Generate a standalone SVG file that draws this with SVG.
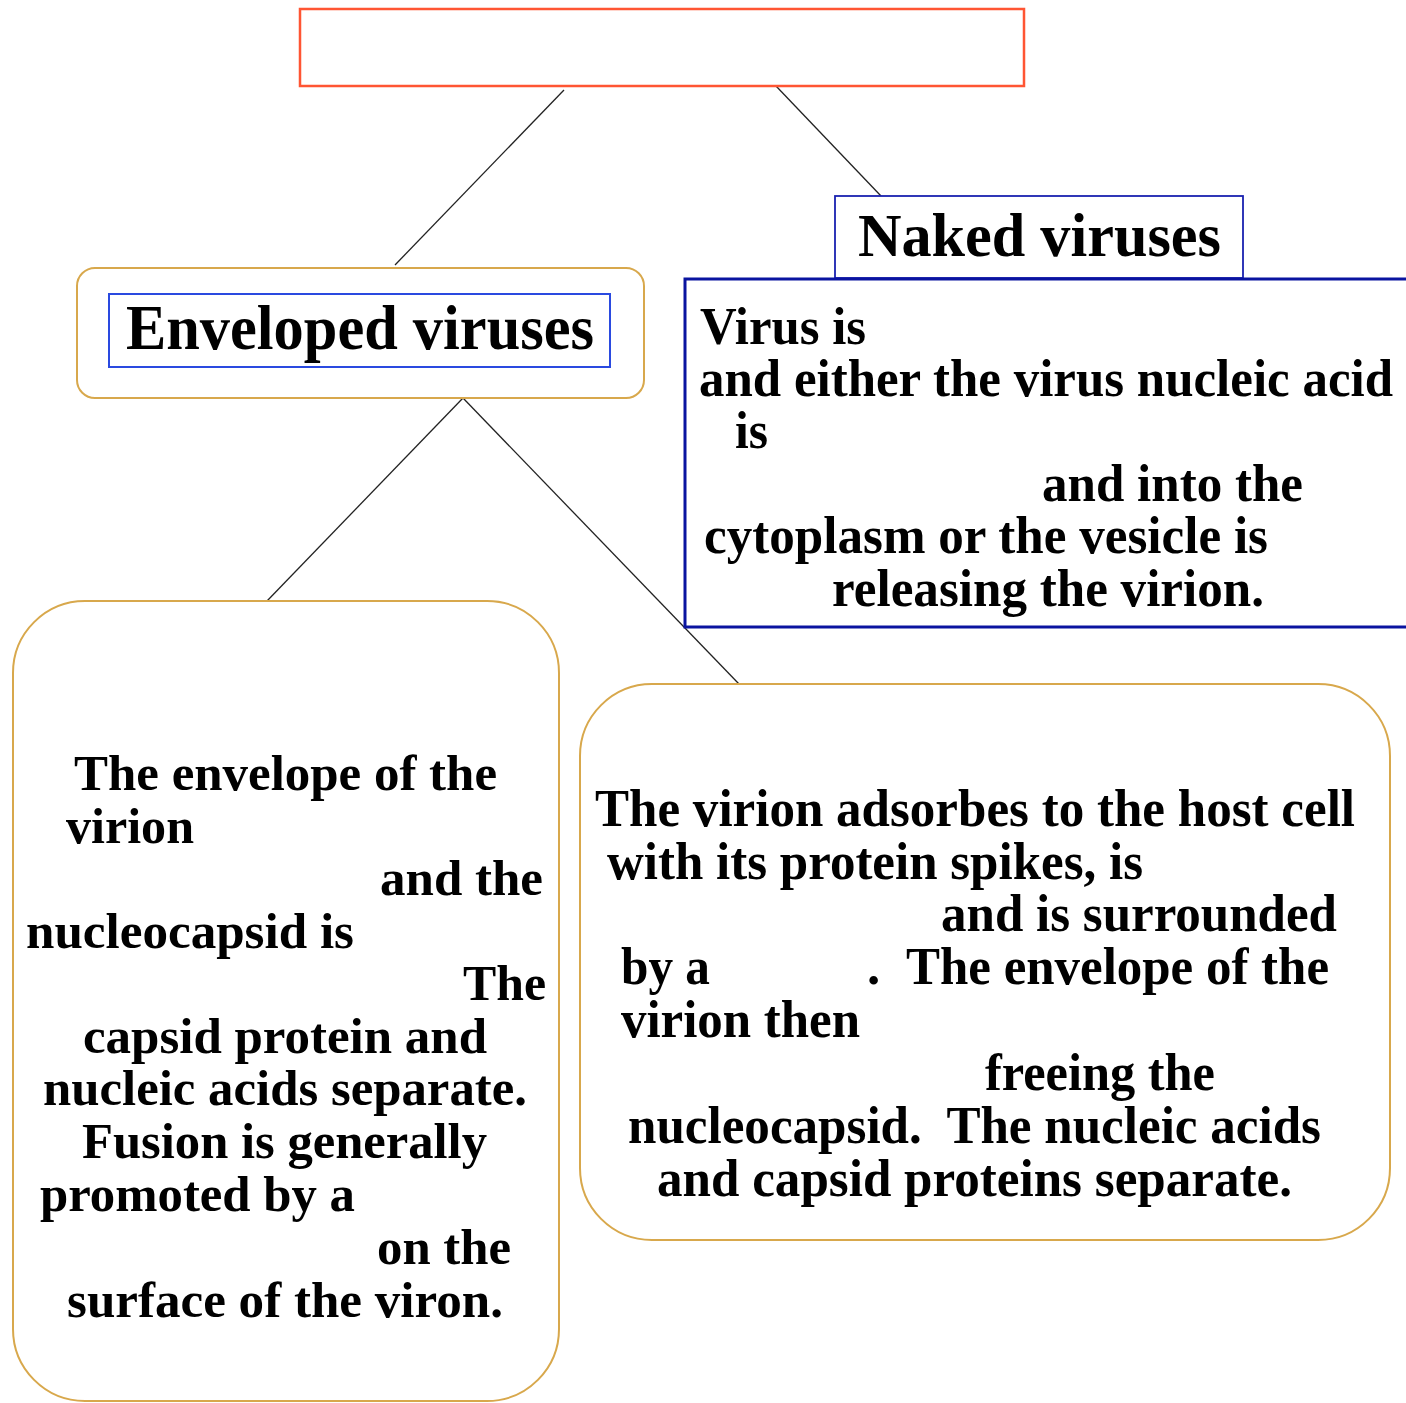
<svg xmlns="http://www.w3.org/2000/svg" width="1406" height="1403" viewBox="0 0 1406 1403">
<style>
.t{font-family:"Liberation Serif","Times New Roman",serif;font-weight:bold;fill:#000}
.n{font-size:53px}
.w{font-size:50px}
.gold{fill:#fff;stroke:#d8a84c;stroke-width:2}
.conn line{stroke:#222;stroke-width:1.3}
</style>
<rect width="1406" height="1403" fill="#fff"/>
<g class="conn">
<line x1="564" y1="90" x2="395" y2="265"/>
<line x1="776" y1="86" x2="881" y2="196"/>
<line x1="463" y1="398" x2="267" y2="601"/>
<line x1="463" y1="398" x2="739" y2="684"/>
</g>
<g id="root">
<rect x="300" y="9" width="724" height="77" fill="#fff" stroke="#ff5533" stroke-width="2.5"/>
</g>
<g id="enveloped">
<rect class="gold" x="77" y="268" width="567" height="130" rx="18"/>
<rect x="109" y="294" width="501" height="73" fill="none" stroke="#2a4ae0" stroke-width="2"/>
<text class="t" x="126" y="349" font-size="64" textLength="468" lengthAdjust="spacingAndGlyphs">Enveloped viruses</text>
</g>
<g id="naked">
<rect x="835" y="196" width="408" height="82" fill="#fff" stroke="#1a22b0" stroke-width="1.8"/>
<text class="t" x="858" y="256" font-size="62" textLength="363" lengthAdjust="spacingAndGlyphs">Naked viruses</text>
<rect x="685" y="279" width="740" height="348" fill="#fff" stroke="#0a14a0" stroke-width="3"/>
<text class="t n" x="700" y="344" textLength="166" lengthAdjust="spacingAndGlyphs">Virus is</text>
<text class="t n" x="699" y="396" textLength="694" lengthAdjust="spacingAndGlyphs">and either the virus nucleic acid</text>
<text class="t n" x="735" y="448" textLength="33" lengthAdjust="spacingAndGlyphs">is</text>
<text class="t n" x="1042" y="501" textLength="261" lengthAdjust="spacingAndGlyphs">and into the</text>
<text class="t n" x="704" y="553" textLength="564" lengthAdjust="spacingAndGlyphs">cytoplasm or the vesicle is</text>
<text class="t n" x="832" y="606" textLength="432" lengthAdjust="spacingAndGlyphs">releasing the virion.</text>
</g>
<g id="fusion">
<rect class="gold" x="13" y="601" width="546" height="800" rx="72"/>
<text class="t w" x="74" y="790" textLength="423" lengthAdjust="spacingAndGlyphs">The envelope of the</text>
<text class="t w" x="66" y="843" textLength="128" lengthAdjust="spacingAndGlyphs">virion</text>
<text class="t w" x="380" y="895" textLength="163" lengthAdjust="spacingAndGlyphs">and the</text>
<text class="t w" x="26" y="948" textLength="328" lengthAdjust="spacingAndGlyphs">nucleocapsid is</text>
<text class="t w" x="463" y="1000" textLength="83" lengthAdjust="spacingAndGlyphs">The</text>
<text class="t w" x="83" y="1053" textLength="404" lengthAdjust="spacingAndGlyphs">capsid protein and</text>
<text class="t w" x="43" y="1105" textLength="484" lengthAdjust="spacingAndGlyphs">nucleic acids separate.</text>
<text class="t w" x="82" y="1158" textLength="405" lengthAdjust="spacingAndGlyphs">Fusion is generally</text>
<text class="t w" x="40" y="1211" textLength="315" lengthAdjust="spacingAndGlyphs">promoted by a</text>
<text class="t w" x="377" y="1264" textLength="134" lengthAdjust="spacingAndGlyphs">on the</text>
<text class="t w" x="67" y="1317" textLength="436" lengthAdjust="spacingAndGlyphs">surface of the viron.</text>
</g>
<g id="endocytosis">
<rect class="gold" x="580" y="684" width="810" height="556" rx="72"/>
<text class="t n" x="595" y="826" textLength="760" lengthAdjust="spacingAndGlyphs">The virion adsorbes to the host cell</text>
<text class="t n" x="607" y="879" textLength="536" lengthAdjust="spacingAndGlyphs">with its protein spikes, is</text>
<text class="t n" x="941" y="931" textLength="396" lengthAdjust="spacingAndGlyphs">and is surrounded</text>
<text class="t n" x="621" y="984" textLength="89" lengthAdjust="spacingAndGlyphs">by a</text>
<text class="t n" x="867" y="984">.</text>
<text class="t n" x="906" y="984" textLength="423" lengthAdjust="spacingAndGlyphs">The envelope of the</text>
<text class="t n" x="621" y="1037" textLength="239" lengthAdjust="spacingAndGlyphs">virion then</text>
<text class="t n" x="985" y="1090" textLength="230" lengthAdjust="spacingAndGlyphs">freeing the</text>
<text class="t n" x="628" y="1143" textLength="693" lengthAdjust="spacingAndGlyphs" xml:space="preserve">nucleocapsid.  The nucleic acids</text>
<text class="t n" x="657" y="1196" textLength="635" lengthAdjust="spacingAndGlyphs">and capsid proteins separate.</text>
</g>
</svg>
